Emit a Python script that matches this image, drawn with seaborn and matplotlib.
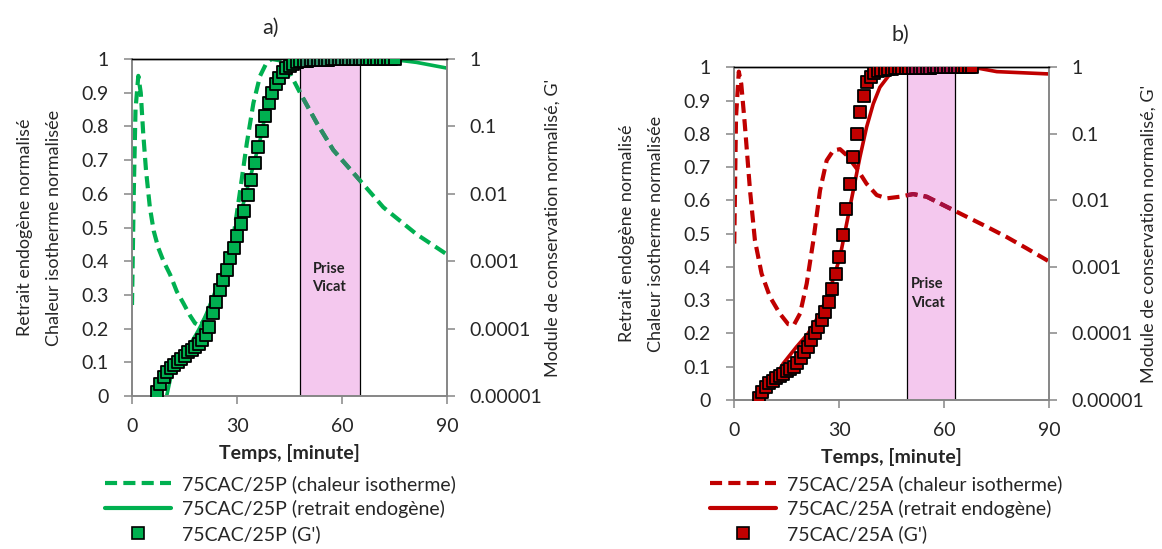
import numpy as np
import matplotlib
matplotlib.use("Agg")
import matplotlib.pyplot as plt
from matplotlib.lines import Line2D
from matplotlib.ticker import FixedLocator, NullLocator
import seaborn as sns

# ---- panel a : 75CAC/25P ----
ta_heat = [0, 0.5, 1.0, 1.8, 2.5, 3.2, 4.0, 5.1, 6.2, 7.5, 9.0, 10.9, 12.8, 14.7, 16.5, 18.0, 19.4, 21.3,
           23.2, 25.1, 27.0, 29.0, 30.9, 32.8, 34.7, 36.6, 38.5, 39.9, 42.3, 45.1, 48.0, 52.8, 57.5, 65.1,
           71.8, 81.3, 90]
ya_heat = [0.27, 0.60, 0.85, 0.95, 0.90, 0.78, 0.67, 0.56, 0.49, 0.44, 0.40, 0.36, 0.31, 0.275, 0.24, 0.216,
           0.208, 0.236, 0.275, 0.325, 0.384, 0.473, 0.61, 0.75, 0.87, 0.95, 0.99, 1.0, 0.996, 0.958, 0.90,
           0.81, 0.73, 0.64, 0.56, 0.48, 0.42]
ta_shr = [9.9, 11.3, 12.8, 14.2, 15.6, 17.0, 18.5, 19.9, 21.3, 23.2, 25.1, 27.0, 29.0, 30.9, 32.8, 34.7,
          36.6, 38.0, 39.4, 40.8, 42.3, 44.0, 46.0, 48.0, 50.0, 60.0, 70.0, 75.0, 81.3, 90.0]
ya_shr = [0.0, 0.067, 0.10, 0.12, 0.14, 0.16, 0.186, 0.213, 0.245, 0.295, 0.345, 0.40, 0.463, 0.535, 0.61,
          0.685, 0.76, 0.83, 0.89, 0.93, 0.958, 0.978, 0.99, 0.997, 1.0, 1.0, 1.0, 0.998, 0.99, 0.973]
ta_g = list(range(7, 76))
ga_g = [1.16e-5, 1.53e-5, 1.93e-5, 2.29e-5, 2.57e-5, 2.88e-5, 3.24e-5, 3.59e-5, 3.98e-5, 4.47e-5,
        4.84e-5, 5.31e-5, 5.96e-5, 6.68e-5, 7.94e-5, 1.06e-4, 1.68e-4, 2.51e-4, 3.76e-4, 5.31e-4,
        7.50e-4, 1.12e-3, 1.58e-3, 2.37e-3, 3.55e-3, 5.62e-3, 9.44e-3, 1.58e-2, 2.82e-2, 5.01e-2,
        8.41e-2, 0.141, 0.224, 0.316, 0.422, 0.531, 0.631, 0.724, 0.794, 0.851,
        0.891, 0.923,
        0.94, 0.95, 0.96, 0.965, 0.97, 0.975, 0.978, 0.981, 0.984, 0.986,
        0.988, 0.99, 0.991, 0.992, 0.993, 0.994, 0.995, 0.996, 0.996, 0.997,
        0.997, 0.998, 0.998, 0.999, 0.999, 1.0, 1.0]
vicat_a = (48.0, 65.0)

# ---- panel b : 75CAC/25A ----
tb_heat = [0, 0.5, 1.3, 2.0, 3.0, 4.5, 5.9, 7.8, 10.2, 13.0, 15.4, 17.0, 18.8, 20.7, 22.6, 24.5, 26.4,
           28.3, 30.2, 32.1, 35.0, 37.8, 40.7, 43.5, 47.3, 51.1, 55.0, 59.7, 65.4, 72.1, 77.8, 83.5, 90.0]
yb_heat = [0.47, 0.85, 0.987, 0.95, 0.83, 0.63, 0.48, 0.38, 0.31, 0.26, 0.228, 0.225, 0.26, 0.35, 0.48,
           0.63, 0.72, 0.75, 0.754, 0.736, 0.696, 0.65, 0.616, 0.606, 0.611, 0.619, 0.611, 0.586, 0.556,
           0.521, 0.49, 0.456, 0.416]
tb_shr = [8.8, 11.1, 14.0, 17.8, 21.1, 24.5, 27.3, 30.2, 32.1, 34.0, 35.9, 37.8, 39.7, 41.6, 44.5, 47.3,
          50.0, 60.0, 68.3, 75.0, 90.0]
yb_shr = [0.0, 0.06, 0.11, 0.16, 0.20, 0.26, 0.33, 0.43, 0.53, 0.63, 0.73, 0.82, 0.89, 0.94, 0.98, 0.997,
          1.0, 1.0, 1.0, 0.987, 0.98]
tb_g = list(range(7, 69))
gb_g = [1.06e-5, 1.33e-5, 1.58e-5, 1.78e-5, 1.93e-5, 2.11e-5, 2.29e-5, 2.48e-5, 2.69e-5, 2.92e-5,
        3.16e-5, 3.55e-5, 4.22e-5, 5.31e-5, 6.31e-5, 7.94e-5, 1.0e-4, 1.26e-4, 1.58e-4, 2.11e-4,
        2.99e-4, 4.73e-4, 7.94e-4, 1.41e-3, 2.99e-3, 7.50e-3, 1.78e-2, 4.47e-2, 0.1, 0.211,
        0.376, 0.596, 0.724, 0.813, 0.871, 0.902, 0.923, 0.94, 0.95, 0.96,
        0.97, 0.975, 0.98, 0.983, 0.986, 0.988, 0.99, 0.991, 0.992, 0.993,
        0.994, 0.995, 0.996, 0.996, 0.997, 0.997, 0.998, 0.998, 0.999, 0.999,
        1.0, 1.0]
vicat_b = (49.3, 63.0)

x_ticks = [0, 30, 60, 90]
left_ticks = [0, 0.1, 0.2, 0.3, 0.4, 0.5, 0.6, 0.7, 0.8, 0.9, 1]
right_ticks = [1e-5, 1e-4, 1e-3, 1e-2, 1e-1, 1]
right_labels = ["0.00001", "0.0001", "0.001", "0.01", "0.1", "1"]

sns.set_style("white")
plt.rcParams['font.family'] = ['Lato', 'DejaVu Sans']

GREEN = "#00B050"
RED = "#C00000"
PINK = "#F4C8EE"
GRAY = "#868686"
DASH = (0, (2.9, 1.5))
SQ = 80

fig = plt.figure(figsize=(11.62, 5.49), dpi=100)


def panel(rect, title, title_xy, name, color, dark, t_heat, y_heat, t_shr, y_shr, t_g, g_g, vicat,
          text_xy, left_lab_x, right_lab_x, leg_anchor):
    ax = fig.add_axes(rect)
    ax2 = ax.twinx()

    span = ax.axvspan(vicat[0], vicat[1], facecolor=PINK, edgecolor="black", linewidth=0.9, zorder=0.5)
    ax.text(text_xy[0], text_xy[1], "Prise\nVicat", ha="center", va="center", fontsize=10.5,
            fontweight="bold", color="#222222", linespacing=1.4)

    sns.lineplot(x=t_heat, y=y_heat, ax=ax, color=color, linewidth=3, linestyle=DASH, sort=False)
    over = ax.plot(t_heat, y_heat, color=dark, linewidth=3, linestyle=DASH)[0]
    over.set_clip_path(span)
    sns.lineplot(x=t_shr, y=y_shr, ax=ax, color=color, linewidth=2.6, sort=False)

    sns.scatterplot(x=t_g, y=g_g, ax=ax2, marker="s", s=SQ, color=color, edgecolor="black",
                    linewidth=1.3, zorder=3)
    sc = ax2.scatter(t_g, g_g, marker="s", s=SQ, color=dark, edgecolor="black", linewidth=1.3, zorder=4)
    sc.set_clip_path(span)

    ax.set_xlim(0, 90)
    ax.set_ylim(0, 1)
    ax.set_xticks(x_ticks)
    ax.set_yticks(left_ticks)
    ax.set_yticklabels(["%g" % v for v in left_ticks])
    ax2.set_yscale("log")
    ax2.set_ylim(1e-5, 1)
    ax2.yaxis.set_major_locator(FixedLocator(right_ticks))
    ax2.yaxis.set_minor_locator(NullLocator())
    ax2.set_yticklabels(right_labels)

    for a in (ax, ax2):
        for s in ("left", "bottom", "right"):
            a.spines[s].set_color(GRAY)
            a.spines[s].set_linewidth(1.2)
        a.spines["top"].set_color("black")
        a.spines["top"].set_linewidth(1.0)
    ax.tick_params(axis="x", direction="out", length=6, width=1.1, color=GRAY, pad=10, labelsize=14,
                   bottom=True)
    ax.tick_params(axis="y", direction="out", length=6, width=1.1, color=GRAY, pad=11, labelsize=14,
                   left=True)
    ax2.tick_params(axis="y", direction="out", length=6, width=1.1, color=GRAY, pad=10, labelsize=14,
                    right=True)

    ax.set_xlabel("Temps, [minute]", fontsize=14, fontweight="bold", labelpad=6)
    ax.set_ylabel("Retrait endogène normalisé\nChaleur isotherme normalisée", fontsize=13,
                  linespacing=2.0)
    ax.yaxis.set_label_coords(left_lab_x, 0.5)
    ax2.set_ylabel("Module de conservation normalisé, G'", fontsize=13)
    ax2.yaxis.set_label_coords(right_lab_x, 0.5)

    ax.text(title_xy[0], title_xy[1], title, transform=ax.transAxes, ha="center", va="center",
            fontsize=15.5)

    handles = [
        Line2D([], [], color=color, linewidth=3, linestyle=DASH),
        Line2D([], [], color=color, linewidth=3),
        Line2D([], [], color=color, marker="s", markersize=8, markeredgecolor="black",
               markeredgewidth=1.2, linestyle="none"),
    ]
    labels = [name + " (chaleur isotherme)", name + " (retrait endogène)", name + " (G')"]
    ax.legend(handles, labels, loc="upper left", bbox_to_anchor=leg_anchor, frameon=False,
              fontsize=14, handlelength=3.4, handletextpad=0.55, labelspacing=0.35, borderpad=0,
              borderaxespad=0)
    return ax, ax2


panel([0.1136, 0.2787, 0.2711, 0.6138], "a)", (0.44, 1.092), "75CAC/25P", GREEN, "#2E8B66",
      ta_heat, ya_heat, ta_shr, ya_shr, ta_g, ga_g, vicat_a, (56.3, 0.35), -0.222, 1.31,
      (-0.086, -0.235))
panel([0.6319, 0.2714, 0.2711, 0.606], "b)", (0.527, 1.097), "75CAC/25A", RED, "#A31042",
      tb_heat, yb_heat, tb_shr, yb_shr, tb_g, gb_g, vicat_b, (55.2, 0.32), -0.222, 1.29,
      (-0.077, -0.226))

fig.savefig("out.png", dpi=100)
